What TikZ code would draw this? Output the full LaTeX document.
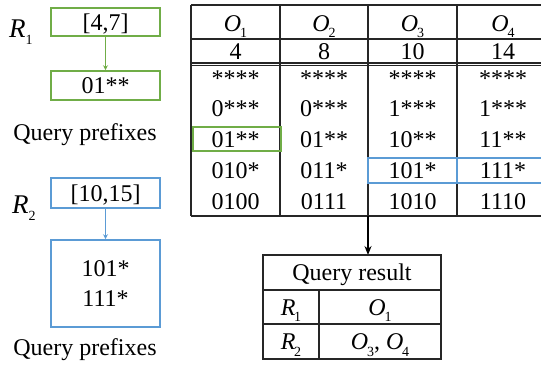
\documentclass[tikz,border=0pt]{standalone}
\usepackage{fontspec}
\setmainfont{Liberation Serif}
\usetikzlibrary{arrows.meta}
\definecolor{ggreen}{RGB}{112,173,71}
\definecolor{gblue}{RGB}{91,155,213}
\newcommand{\lsub}[1]{\raisebox{-0.28em}{\fontsize{14}{14}\selectfont #1}}
\newcommand{\iv}[2]{\textit{#1}\kern-0.05em\lsub{#2}}
\begin{document}
\begin{tikzpicture}[x=1pt,y=-1pt,
  txt/.style={font=\fontsize{24}{28}\selectfont, inner sep=0pt, text height=16pt, text depth=0pt},
  captxt/.style={font=\fontsize{24}{28}\selectfont, inner sep=0pt, anchor=base},
  biglab/.style={font=\fontsize{27}{30}\selectfont, inner sep=0pt, anchor=base west},
  gbox/.style={draw=ggreen, line width=1.6pt, minimum width=109pt, inner sep=0pt},
  bbox/.style={draw=gblue, line width=1.6pt, minimum width=109pt, inner sep=0pt},
  garrow/.style={draw=ggreen, line width=0.9pt, -{Stealth[length=5pt,width=5pt]}},
  barrow/.style={draw=gblue, line width=0.9pt, -{Stealth[length=5pt,width=5pt]}},
  tline/.style={line width=1.2pt, draw=black!85},
  ghl/.style={draw=ggreen, line width=1.5pt},
  bhl/.style={draw=gblue, line width=1.5pt}]
\useasboundingbox (0,0) rectangle (541,365);

% ---------- left: R1 ----------
\node[biglab] (r1lab) at (9,37) {\textit{R}\lsub{1}};
\node[gbox, minimum height=28pt] (r1in) at (105.5,22) {};
\node[txt] (r1intxt) at (105.5,22) {[4,7]};
\node[gbox, minimum height=29pt] (r1out) at (105.5,85.5) {};
\node[txt] (r1outtxt) at (105.5,85.5) {01**};
\draw[garrow] (r1in.south) -- (r1out.north);
\node[captxt] (qp1) at (85,140) {Query prefixes};

% ---------- left: R2 ----------
\node[biglab] (r2lab) at (12,213) {\textit{R}\lsub{2}};
\node[bbox, minimum height=30pt] (r2in) at (105.5,193) {};
\node[txt] (r2intxt) at (105.5,193) {[10,15]};
\node[bbox, minimum height=87pt] (r2out) at (105.5,283.5) {};
\node[txt] (r2a) at (105.5,268) {101*};
\node[txt] (r2b) at (105.5,298) {111*};
\draw[barrow] (r2in.south) -- (r2out.north);
\node[captxt] (qp2) at (85,355) {Query prefixes};

% ---------- main table ----------
\draw[tline] (191,5) -- (549,5);
\draw[tline] (191,39) -- (549,39);
\draw[tline] (191,63) -- (549,63);
\draw[tline] (191,65.5) -- (549,65.5);
\draw[tline] (191,216) -- (549,216);
\foreach \xx in {191,280,368,457,549} \draw[tline] (\xx,5) -- (\xx,216);

\node[txt] (h1) at (235.5,23) {\iv{O}{1}};
\node[txt] (h2) at (324,23) {\iv{O}{2}};
\node[txt] (h3) at (412.5,23) {\iv{O}{3}};
\node[txt] (h4) at (503,23) {\iv{O}{4}};
\node[txt] (v1) at (235.5,51) {4};
\node[txt] (v2) at (324,51) {8};
\node[txt] (v3) at (412.5,51) {10};
\node[txt] (v4) at (503,51) {14};

\foreach \yy/\a/\b/\c/\d [count=\i] in {
  78/****/****/****/****,
  108/0***/0***/1***/1***,
  139/01**/01**/10**/11**,
  170/010*/011*/101*/111*,
  201/0100/0111/1010/1110} {
  \node[txt] (c1\i) at (235.5,\yy) {\a};
  \node[txt] (c2\i) at (324,\yy) {\b};
  \node[txt] (c3\i) at (412.5,\yy) {\c};
  \node[txt] (c4\i) at (503,\yy) {\d};
}

% highlights
\draw[ghl] (193,127) rectangle (281,151);
\draw[bhl] (368,158) rectangle (456.5,183);
\draw[bhl] (457.5,158) rectangle (546,183);

% arrow to result
\coordinate (tabbot) at (368,216);
\coordinate (qtop) at (368,255);
\draw[line width=1.5pt, -{Stealth[length=9pt,width=7pt]}] (tabbot) -- (qtop);

% ---------- query result table ----------
\draw[tline] (263,255) rectangle (441,359);
\draw[tline] (263,290) -- (441,290);
\draw[tline] (263,324) -- (441,324);
\draw[tline] (319,290) -- (319,359);
\node[txt] (qr) at (352,272.5) {Query result};
\node[txt] (q1a) at (291,307) {\iv{R}{1}};
\node[txt] (q1b) at (380,307) {\iv{O}{1}};
\node[txt] (q2a) at (291,341.5) {\iv{R}{2}};
\node[txt] (q2b) at (380,341.5) {\iv{O}{3}, \iv{O}{4}};
\end{tikzpicture}
\end{document}
